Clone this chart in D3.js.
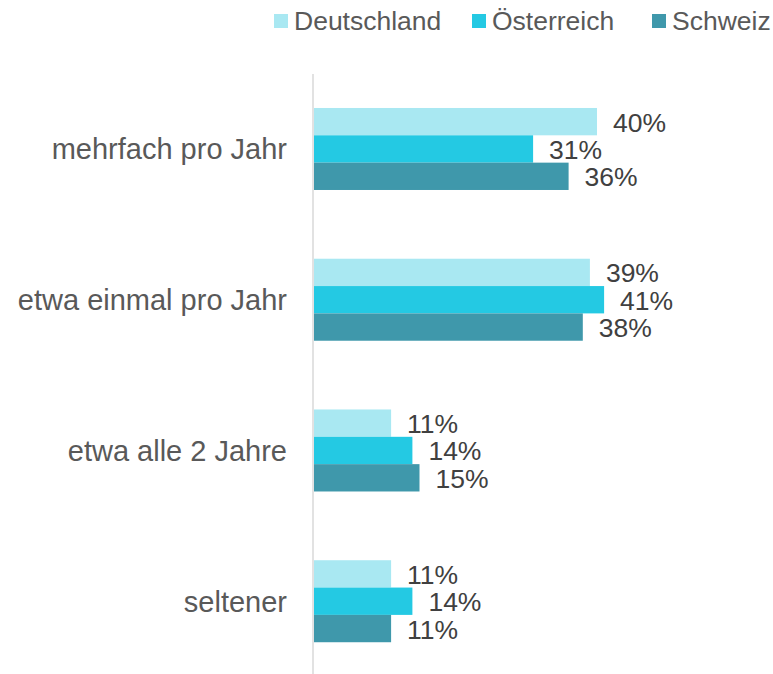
<!DOCTYPE html>
<html>
<head>
<meta charset="utf-8">
<script src="https://cdn.jsdelivr.net/npm/d3@7"></script>
<style>
    body { margin: 0; background: #fff; }
    svg { display: block; font-family: "Liberation Sans", Arial, sans-serif; }
</style>
</head>
<body>
<svg id="chart" width="773" height="674"></svg>
<script>
// categories and series
const categories = ["mehrfach pro Jahr", "etwa einmal pro Jahr", "etwa alle 2 Jahre", "seltener"];
const seriesNames = ["Deutschland", "Österreich", "Schweiz"];
const deutschland = [40, 39, 11, 11];
const oesterreich = [31, 41, 14, 14];
const schweiz = [36, 38, 15, 11];
const colors = ["#a9e8f2", "#24c9e3", "#3f98ab"];

const series = [deutschland, oesterreich, schweiz];
const data = categories.map((c, i) => ({
    category: c,
    values: seriesNames.map((s, j) => ({ name: s, value: series[j][i] }))
}));

const svg = d3.select("#chart");
const margin = {left: 313, top: 73.6};
const plotHeight = 603;

// x: percentage -> pixels (40% ends at ~597px)
const x = d3.scaleLinear().domain([0, 40]).range([margin.left, margin.left + 284]);
const y0 = d3.scaleBand().domain(categories)
    .range([margin.top, margin.top + plotHeight])
    .paddingInner(0.456).paddingOuter(0.228);
const y1 = d3.scaleBand().domain(seriesNames).range([0, y0.bandwidth()]);
const color = d3.scaleOrdinal().domain(seriesNames).range(colors);

// vertical category axis line
svg.append("line")
    .attr("x1", x(0)).attr("x2", x(0))
    .attr("y1", 74).attr("y2", 674)
    .attr("stroke", "#d9d9d9")
    .attr("stroke-width", 1.5);

const groups = svg.selectAll("g.group")
    .data(data)
    .enter().append("g")
    .attr("class", "group")
    .attr("transform", d => "translate(0," + y0(d.category) + ")");

groups.selectAll("rect")
    .data(d => d.values)
    .enter().append("rect")
    .attr("x", x(0) + 1)
    .attr("y", d => y1(d.name))
    .attr("width", d => x(d.value) - x(0) - 1)
    .attr("height", y1.bandwidth())
    .attr("fill", d => color(d.name));

groups.selectAll("text.value")
    .data(d => d.values)
    .enter().append("text")
    .attr("class", "value")
    .attr("x", d => x(d.value) + 16)
    .attr("y", d => y1(d.name) + y1.bandwidth() / 2 + 10)
    .attr("font-size", 26.5)
    .attr("fill", "#404040")
    .text(d => d.value + "%");

// category labels
svg.selectAll("text.cat")
    .data(categories)
    .enter().append("text")
    .attr("class", "cat")
    .attr("x", 287)
    .attr("y", d => y0(d) + y0.bandwidth() / 2 + 10.5)
    .attr("text-anchor", "end")
    .attr("font-size", 29)
    .attr("fill", "#595959")
    .text(d => d);

// legend
const legendX = [274, 472, 652];
const legend = svg.selectAll("g.legend")
    .data(seriesNames)
    .enter().append("g")
    .attr("class", "legend")
    .attr("transform", (d, i) => "translate(" + legendX[i] + ",0)");

legend.append("rect")
    .attr("x", 0).attr("y", 14)
    .attr("width", 14).attr("height", 14)
    .attr("fill", d => color(d));

legend.append("text")
    .attr("x", 20).attr("y", 29.5)
    .attr("font-size", 26.5)
    .attr("fill", "#595959")
    .text(d => d);
</script>
</body>
</html>
